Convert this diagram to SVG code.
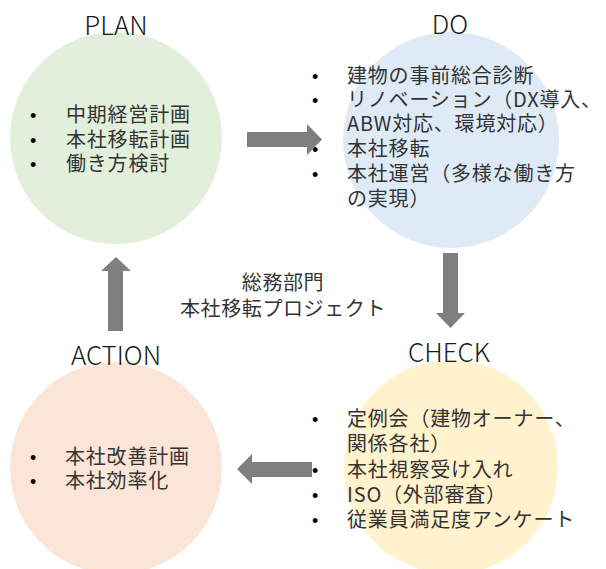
<svg xmlns="http://www.w3.org/2000/svg" width="606" height="569" viewBox="0 0 606 569">
<style>
.title{font-family:"Noto Sans CJK JP","Noto Sans",sans-serif;font-size:26px;fill:#1a1a1a;text-anchor:middle;font-weight:300}
.body{font-family:"Noto Sans CJK JP",sans-serif;font-size:20px;fill:#333333;letter-spacing:0.8px}
.bul{font-family:"Liberation Sans",sans-serif;font-size:18px;fill:#000000}
.mid{font-family:"Noto Sans CJK JP",sans-serif;font-size:20px;fill:#333333;text-anchor:middle;letter-spacing:0.6px}
.arrow{fill:#7f7f7f}
</style>
<rect width="606" height="569" fill="#ffffff"/>
<g id="plan">
<circle cx="116" cy="138" r="106" fill="#e2efda"/>
<text class="title" x="116" y="35">PLAN</text>
<text class="bul" x="30" y="122">•</text>
<text class="bul" x="30" y="147">•</text>
<text class="bul" x="30" y="171">•</text>
<text class="body" x="66" y="122">中期経営計画</text>
<text class="body" x="66" y="147">本社移転計画</text>
<text class="body" x="66" y="171">働き方検討</text>
</g>
<g id="do">
<circle cx="451" cy="140" r="108" fill="#deebf7"/>
<text class="title" x="450" y="34">DO</text>
<text class="bul" x="312" y="83">•</text>
<text class="bul" x="312" y="107">•</text>
<text class="bul" x="312" y="156">•</text>
<text class="bul" x="312" y="181">•</text>
<text class="body" x="347" y="83">建物の事前総合診断</text>
<text class="body" x="347" y="107">リノベーション（DX導入、</text>
<text class="body" x="347" y="131">ABW対応、環境対応）</text>
<text class="body" x="347" y="156">本社移転</text>
<text class="body" x="347" y="181">本社運営（多様な働き方</text>
<text class="body" x="347" y="206">の実現）</text>
</g>
<g id="check">
<circle cx="451" cy="467" r="107" fill="#fff2cc"/>
<text class="title" x="449" y="362">CHECK</text>
<text class="bul" x="312" y="426">•</text>
<text class="bul" x="312" y="477">•</text>
<text class="bul" x="312" y="502">•</text>
<text class="bul" x="312" y="527">•</text>
<text class="body" x="347" y="426">定例会（建物オーナー、</text>
<text class="body" x="347" y="451">関係各社）</text>
<text class="body" x="347" y="477">本社視察受け入れ</text>
<text class="body" x="347" y="502">ISO（外部審査）</text>
<text class="body" x="347" y="527">従業員満足度アンケート</text>
</g>
<g id="action">
<circle cx="116" cy="468" r="106" fill="#fbe5d6"/>
<text class="title" x="116" y="365">ACTION</text>
<text class="bul" x="30" y="464">•</text>
<text class="bul" x="30" y="488">•</text>
<text class="body" x="65" y="464">本社改善計画</text>
<text class="body" x="65" y="488">本社効率化</text>
</g>
<g id="center-label">
<text class="mid" x="283" y="290">総務部門</text>
<text class="mid" x="283" y="316">本社移転プロジェクト</text>
</g>
<g id="connectors">
<polygon class="arrow" points="247,132 307,132 307,124 322,139.5 307,155 307,147 247,147"/>
<polygon class="arrow" points="443,253 458,253 458,313 465,313 450.5,328 436,313 443,313"/>
<polygon class="arrow" points="312,462 252,462 252,454 237,469 252,484 252,477 312,477"/>
<polygon class="arrow" points="108,331 108,271 101,271 116,257 131,271 123,271 123,331"/>
</g>
</svg>
